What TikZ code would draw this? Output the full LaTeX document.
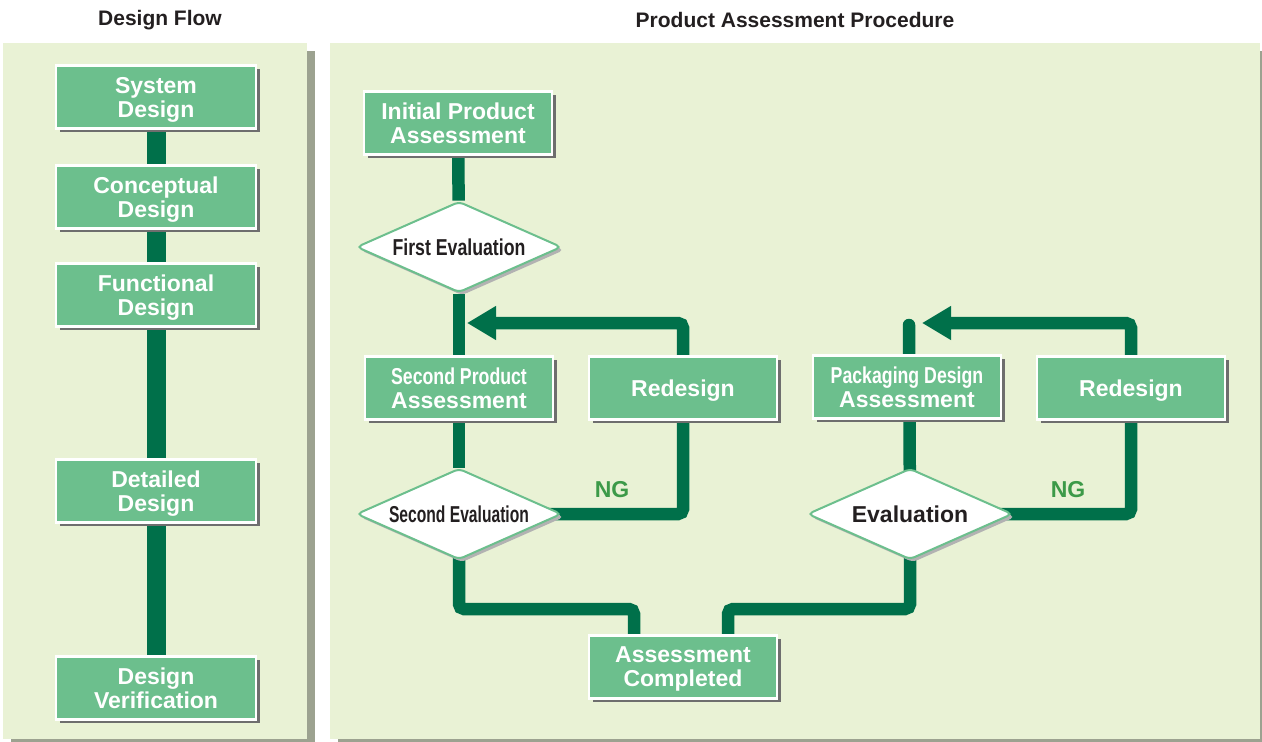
\documentclass[tikz,border=0pt]{standalone}
\usepackage{fontspec}
\setmainfont{Liberation Sans}
\newfontfamily\narrowfont[FakeStretch=0.77]{Liberation Sans}
\newfontfamily\narrowerfont[FakeStretch=0.68]{Liberation Sans}
\usepackage{xcolor}
\usetikzlibrary{arrows.meta,positioning,shapes.geometric,shadows,backgrounds}

\definecolor{panelbg}{HTML}{E9F2D5}
\definecolor{panelshade}{HTML}{9CA290}
\definecolor{boxgreen}{HTML}{6CBF8D}
\definecolor{linegreen}{HTML}{00704A}
\definecolor{nggreen}{HTML}{3C9A48}
\definecolor{boxshade}{HTML}{6E6E6E}
\definecolor{inkgray}{HTML}{231F20}

\pgfdeclarelayer{panel}
\pgfsetlayers{panel,background,main}

\tikzset{
  flowbox/.style={rectangle,fill=boxgreen,draw=white,line width=2.5pt,
    minimum width=188pt,minimum height=63pt,inner sep=0pt,align=center,
    text=white,text depth=0pt,font=\fontsize{23}{24}\selectfont\bfseries,
    drop shadow={shadow xshift=3.5pt,shadow yshift=-3.5pt,fill=boxshade,opacity=1}},
  evalbox/.style={diamond,aspect=2.28,fill=white,draw=boxgreen,line width=2pt,
    minimum width=205pt,minimum height=91pt,inner sep=0pt,rounded corners=5pt,
    text=inkgray,text depth=0pt,font=\fontsize{23}{24}\selectfont\bfseries,
    drop shadow={shadow xshift=3pt,shadow yshift=-3pt,fill=black!30,opacity=1}},
  flowline/.style={draw=linegreen,line width=12.5pt,rounded corners=5pt},
  flowbar/.style={draw=linegreen,line width=19pt},
  title/.style={text=inkgray,font=\fontsize{21}{23}\selectfont\bfseries},
}

\begin{document}
\begin{tikzpicture}[x=1pt,y=-1pt,>={Triangle[length=29pt,width=32pt]}]
  \useasboundingbox (0,0) rectangle (1262,742);

  % panels with their shadows
  \begin{pgfonlayer}{panel}
    \begin{scope}
      \clip (0,0) rectangle (1262,742);
      \fill[panelshade] (11,51) rectangle (315,747);
      \fill[panelbg] (3,43) rectangle (307,739);
      \fill[panelshade] (338,51) rectangle (1268,747);
      \fill[panelbg] (330,43) rectangle (1260,739);
    \end{scope}
  \end{pgfonlayer}

  \node[title] (flowtitle) at (160,20) {Design Flow};
  \node[title] (proctitle) at (795,20) {Product Assessment Procedure};

  % design flow
  \node[flowbox,minimum width=200pt] (sys) at (156,97) {System\\Design};
  \node[flowbox,minimum width=200pt] (con) at (156,197) {Conceptual\\Design};
  \node[flowbox,minimum width=200pt] (fun) at (156,295) {Functional\\Design};
  \node[flowbox,minimum width=200pt] (det) at (156,491) {Detailed\\Design};
  \node[flowbox,minimum width=200pt] (ver) at (156,688) {Design\\Verification};

  % assessment procedure
  \node[flowbox] (init) at (458,123) {Initial Product\\Assessment};
  \node[evalbox] (eval1) at (459,247) {\makebox[0pt]{\narrowfont First Evaluation}};
  \node[flowbox] (spa) at (459,388) {{\narrowfont Second Product}\\Assessment};
  \node[flowbox] (redes1) at (683,388) {Redesign};
  \node[evalbox] (eval2) at (459,514) {\makebox[0pt]{\narrowerfont Second Evaluation}};
  \node[flowbox] (done) at (683,667) {Assessment\\Completed};
  \node[flowbox] (pkg) at (907,387) {{\narrowfont Packaging Design}\\Assessment};
  \node[flowbox] (redes2) at (1131,388) {Redesign};
  \node[evalbox] (eval3) at (910,514) {\makebox[0pt]{Evaluation}};

  \node[text=nggreen,font=\fontsize{23}{24}\selectfont\bfseries] (ng1) at (612,490) {NG};
  \node[text=nggreen,font=\fontsize{23}{24}\selectfont\bfseries] (ng2) at (1068,490) {NG};

  \coordinate (tip1) at (467,323);
  \coordinate (tip2) at (922,323);
  \coordinate (stub) at (909,325);
  \coordinate (joinl) at (634,609);
  \coordinate (joinr) at (728,609);

  \begin{scope}[on background layer]
    \draw[flowbar] (sys) -- (con);
    \draw[flowbar] (con) -- (fun);
    \draw[flowbar] (fun) -- (det);
    \draw[flowbar] (det) -- (ver);

    \draw[flowline] (init) -- (eval1);
    \draw[flowline] (eval1) -- (spa);
    \draw[flowline] (spa) -- (eval2);
    \draw[flowline,->] (redes1.center) |- (tip1);
    \draw[flowline] (eval2.center) -| (redes1.center);
    \draw[flowline] (eval2.center) |- (joinl) -- (joinl |- done.center);

    \draw[flowline,line cap=round] (eval3.center) -- (stub);
    \draw[flowline,->] (redes2.center) |- (tip2);
    \draw[flowline] (eval3.center) -| (redes2.center);
    \draw[flowline] (eval3.center) |- (joinr) -- (joinr |- done.center);
  \end{scope}
\end{tikzpicture}
\end{document}
